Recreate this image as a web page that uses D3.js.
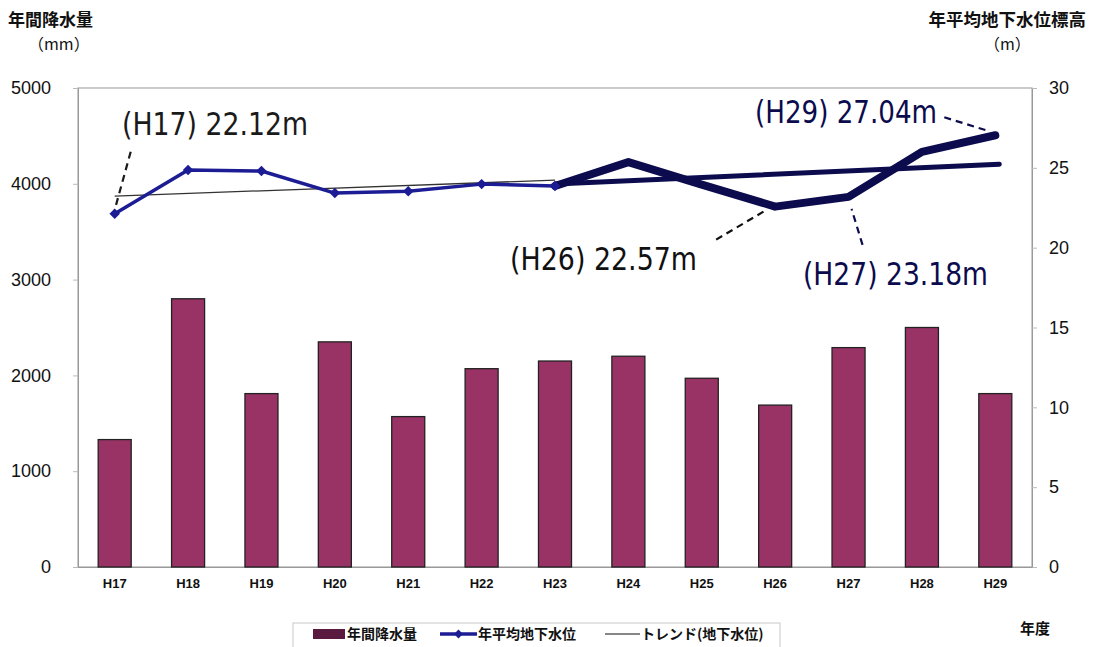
<!DOCTYPE html>
<html>
<head>
<meta charset="utf-8">
<script src="https://cdn.jsdelivr.net/npm/d3@7"></script>
<style>
  html, body { margin: 0; padding: 0; background: #fff; }
  svg { display: block; }
</style>
</head>
<body>
<svg id="chart" width="1096" height="647"></svg>
<script>
// ---------- data ----------
const years = ["H17","H18","H19","H20","H21","H22","H23","H24","H25","H26","H27","H28","H29"];
const rainfall = [1330, 2800, 1810, 2350, 1570, 2070, 2150, 2200, 1970, 1690, 2290, 2500, 1810];
const groundwater = [22.12, 24.86, 24.80, 23.42, 23.54, 23.98, 23.86, 25.36, 23.95, 22.57, 23.18, 26.00, 27.04];
const trendEnds = [23.23, 25.23];          // trend line value at H17 and at H29
const leftTicks = [0, 1000, 2000, 3000, 4000, 5000];
const rightTicks = [0, 5, 10, 15, 20, 25, 30];
const annoYears = ["H17", "H29", "H26", "H27"];
const annoValues = [22.12, 27.04, 22.57, 23.18];
const legendLabels = ["年間降水量", "年平均地下水位", "トレンド(地下水位)"];

// ---------- layout ----------
const svg = d3.select("#chart");
const L = 78, R = 1032, T = 88, B = 567;
const x = d3.scaleBand().domain(years).range([L, R]).paddingInner(0.55).paddingOuter(0.275);
const yL = d3.scaleLinear().domain([0, 5000]).range([B, T]);
const yR = d3.scaleLinear().domain([0, 30]).range([B, T]);
const cx = d => x(d) + x.bandwidth() / 2;

const barColor = "#993366";
const lineBlue = "#1c1c94";
const navy = "#0b0b4e";

// frame
svg.append("rect").attr("x", L).attr("y", T).attr("width", R - L).attr("height", B - T)
  .attr("fill", "none").attr("stroke", "#a8a8a8").attr("stroke-width", 1.2);

// left axis
const axL = svg.append("g").attr("transform", `translate(${L},0)`)
  .call(d3.axisLeft(yL).tickValues(leftTicks).tickSize(5).tickPadding(22).tickFormat(d3.format("d")));
axL.select(".domain").attr("stroke", "#999");
axL.selectAll(".tick line").attr("stroke", "#bbb");
axL.selectAll("text").attr("font-family", "Liberation Sans, Arial, sans-serif")
  .attr("font-size", 18).attr("fill", "#111");

// right axis
const axR = svg.append("g").attr("transform", `translate(${R},0)`)
  .call(d3.axisRight(yR).tickValues(rightTicks).tickSize(5).tickPadding(12));
axR.select(".domain").attr("stroke", "#999");
axR.selectAll(".tick line").attr("stroke", "#bbb");
axR.selectAll("text").attr("font-family", "Liberation Sans, Arial, sans-serif")
  .attr("font-size", 18).attr("fill", "#111");

// bottom axis labels
const axB = svg.append("g").attr("transform", `translate(0,${B})`)
  .call(d3.axisBottom(x).tickSize(0).tickPadding(12));
axB.select(".domain").attr("stroke", "#999");
axB.selectAll("text").attr("font-family", "Liberation Sans, Arial, sans-serif")
  .attr("font-size", 13).attr("font-weight", "bold").attr("fill", "#111");

// bars
svg.append("g").selectAll("rect").data(rainfall).join("rect")
  .attr("x", (d, i) => x(years[i]))
  .attr("y", d => yL(d))
  .attr("width", x.bandwidth())
  .attr("height", d => B - yL(d))
  .attr("fill", barColor).attr("stroke", "#222").attr("stroke-width", 1.3);

// trend line: thin part up to H23, thick navy part after
const tLine = d3.line().x(d => d[0]).y(d => yR(d[1]));
const tAt = i => trendEnds[0] + (trendEnds[1] - trendEnds[0]) * i / (years.length - 1);
svg.append("path")
  .attr("d", tLine([[cx(years[0]), tAt(0)], [cx(years[6]), tAt(6)]]))
  .attr("fill", "none").attr("stroke", "#333").attr("stroke-width", 1.3);
svg.append("path")
  .attr("d", tLine([[cx(years[6]), tAt(6) - 0.25], [cx(years[12]) + 4, tAt(12)]]))
  .attr("fill", "none").attr("stroke", navy).attr("stroke-width", 5).attr("stroke-linecap", "round");

// groundwater line: first part blue with markers
const gLine = d3.line().x(d => cx(d.y)).y(d => yR(d.v));
const gData = years.map((y, i) => ({ y, v: groundwater[i] }));
svg.append("path").attr("d", gLine(gData.slice(0, 7)))
  .attr("fill", "none").attr("stroke", lineBlue).attr("stroke-width", 3.5).attr("stroke-linejoin", "round");
svg.append("path").attr("d", gLine(gData.slice(6)))
  .attr("fill", "none").attr("stroke", navy).attr("stroke-width", 8).attr("stroke-linejoin", "round").attr("stroke-linecap", "round");
svg.append("g").selectAll("path").data(gData.slice(0, 7)).join("path")
  .attr("d", d3.symbol(d3.symbolDiamond2, 70))
  .attr("transform", d => `translate(${cx(d.y)},${yR(d.v)})`)
  .attr("fill", lineBlue);

// annotations
const annoStyle = {
  H17: { tx: 122, ty: 135, len: 186, color: "#1a1a1a", from: [16, -62], to: [0, -4] },
  H29: { tx: 755, ty: 123, len: 182, color: navy, from: [-51, -18], to: [-6, -4] },
  H26: { tx: 510, ty: 270, len: 187, color: "#111", from: [-59, 33], to: [-10, 4] },
  H27: { tx: 803, ty: 285, len: 185, color: navy, from: [14, 48], to: [3, 12] }
};
annoYears.forEach((yr, i) => {
  const s = annoStyle[yr];
  const px = cx(yr), py = yR(annoValues[i]);
  svg.append("line")
    .attr("x1", px + s.from[0]).attr("y1", py + s.from[1])
    .attr("x2", px + s.to[0]).attr("y2", py + s.to[1])
    .attr("stroke", s.color).attr("stroke-width", 2.2).attr("stroke-dasharray", "7,5");
  svg.append("text")
    .attr("transform", `translate(${s.tx},${s.ty}) scale(1,1.08)`)
    .attr("textLength", s.len).attr("lengthAdjust", "spacingAndGlyphs")
    .attr("font-family", "Liberation Sans Narrow, DejaVu Sans Condensed, Liberation Sans, sans-serif")
    .attr("font-size", 30).attr("fill", s.color)
    .text(`(${yr}) ${annoValues[i].toFixed(2)}m`);
});

// titles
const jp = "Noto Sans CJK JP, sans-serif";
svg.append("text").attr("x", 8).attr("y", 26).attr("font-family", jp).attr("font-weight", "bold")
  .attr("font-size", 17).attr("fill", "#111").text("年間降水量");
svg.append("text").attr("x", 28).attr("y", 50).attr("font-family", jp)
  .attr("font-size", 16).attr("fill", "#111").text("（mm）");
svg.append("text").attr("x", 1086).attr("y", 26).attr("text-anchor", "end").attr("font-family", jp).attr("font-weight", "bold")
  .attr("font-size", 17.5).attr("fill", "#111").text("年平均地下水位標高");
svg.append("text").attr("x", 984).attr("y", 50).attr("font-family", jp)
  .attr("font-size", 16).attr("fill", "#111").text("（m）");
svg.append("text").attr("x", 1020).attr("y", 634).attr("font-family", jp).attr("font-weight", "bold")
  .attr("font-size", 15).attr("fill", "#111").text("年度");

// legend
const lg = svg.append("g");
lg.append("rect").attr("x", 293).attr("y", 623).attr("width", 487).attr("height", 26)
  .attr("fill", "#fff").attr("stroke", "#c8c8c8");
const ly = 634;
lg.append("rect").attr("x", 313).attr("y", ly - 5).attr("width", 32).attr("height", 10).attr("fill", "#5a1a40");
lg.append("line").attr("x1", 440).attr("x2", 477).attr("y1", ly).attr("y2", ly)
  .attr("stroke", lineBlue).attr("stroke-width", 3.5);
lg.append("path").attr("d", d3.symbol(d3.symbolDiamond2, 50)).attr("transform", `translate(458.5,${ly})`).attr("fill", lineBlue);
lg.append("line").attr("x1", 605).attr("x2", 640).attr("y1", ly).attr("y2", ly)
  .attr("stroke", "#111").attr("stroke-width", 1.2);
const lx = [347, 478, 641];
lg.selectAll("text.lg").data(legendLabels).join("text").attr("class", "lg")
  .attr("x", (d, i) => lx[i]).attr("y", ly + 5)
  .attr("font-family", jp).attr("font-weight", "bold").attr("font-size", 14).attr("fill", "#111")
  .text(d => d);
</script>
</body>
</html>
